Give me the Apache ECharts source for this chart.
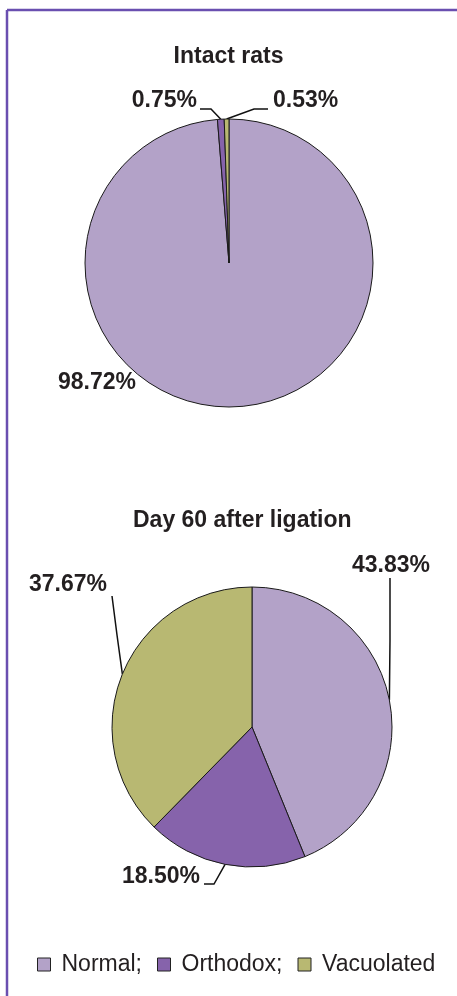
<!DOCTYPE html>
<html>
<head>
<meta charset="utf-8">
<script src="https://cdn.jsdelivr.net/npm/echarts@6/dist/echarts.min.js"></script>
<style>
  html, body { margin: 0; padding: 0; background: #fff; }
  #chart { width: 457px; height: 996px; }
</style>
</head>
<body>
<div id="chart"></div>
<script>
// categories + values (percent of mitochondria)
const categories = ["Normal", "Orthodox", "Vacuolated"];
const intactValues = [98.72, 0.75, 0.53];
const day60Values = [43.83, 18.5, 37.67];
const titles = ["Intact rats", "Day 60 after ligation"];
const colors = ["#b3a2c8", "#8663ab", "#b8b872"];

const FONT = "'Liberation Sans', Arial, sans-serif";
const TOP = { center: [229, 263], r: 144 };
const BOT = { center: [252, 727], r: 140 };

// where each label sits and how its leader bends (layout only)
const topLabels = [
  { x: 97, y: 383, align: "center" },
  { x: 197, y: 101, align: "right", line: [[211, 109], [200, 109]] },
  { x: 273, y: 101, align: "left", line: [[254, 109], [268, 109]] }
];
const botLabels = [
  { x: 391, y: 566, align: "center", line: [[390, 640], [390, 578]] },
  { x: 200, y: 877, align: "right", line: [[214, 884], [204, 884]] },
  { x: 68, y: 585, align: "center", line: [[117, 635], [112, 596]] }
];

function edgePoint(values, idx, geo) {
  const total = values.reduce((a, b) => a + b, 0);
  let cum = 0;
  for (let i = 0; i < idx; i++) cum += values[i];
  const a = 2 * Math.PI * (cum + values[idx] / 2) / total;
  return [geo.center[0] + geo.r * Math.sin(a), geo.center[1] - geo.r * Math.cos(a)];
}

function layoutFor(pos, values, geo) {
  return function (params) {
    const p = pos[params.dataIndex];
    const out = { x: p.x, y: p.y, align: p.align, verticalAlign: "middle" };
    if (p.line) {
      out.labelLinePoints = [edgePoint(values, params.dataIndex, geo), p.line[0], p.line[1]];
    }
    return out;
  };
}

function pieSeries(values, geo, pos) {
  return {
    type: "pie",
    center: geo.center,
    radius: geo.r,
    startAngle: 90,
    clockwise: true,
    avoidLabelOverlap: false,
    animation: false,
    silent: true,
    itemStyle: { borderColor: "#1a1a1a", borderWidth: 1 },
    label: {
      show: true,
      position: "outside",
      formatter: (p) => p.value.toFixed(2) + "%",
      fontFamily: FONT,
      fontSize: 23,
      fontWeight: "bold",
      color: "#231f20"
    },
    labelLine: { show: true, lineStyle: { color: "#111", width: 1.5 } },
    labelLayout: layoutFor(pos, values, geo),
    data: categories.map((name, i) => ({
      name: name,
      value: values[i],
      itemStyle: { color: colors[i] },
      labelLine: { show: !!pos[i].line }
    }))
  };
}

const chart = echarts.init(document.getElementById("chart"));
chart.setOption({
  backgroundColor: "#fff",
  animation: false,
  title: [
    {
      text: titles[0], left: "center", top: 45, padding: 0,
      textStyle: { fontFamily: FONT, fontSize: 23, fontWeight: "bold", color: "#231f20" }
    },
    {
      text: titles[1], left: 133, top: 509, padding: 0,
      textStyle: { fontFamily: FONT, fontSize: 23, fontWeight: "bold", color: "#231f20" }
    }
  ],
  legend: {
    data: categories,
    left: 37,
    top: 953,
    padding: 0,
    icon: "rect",
    itemWidth: 13,
    itemHeight: 13,
    itemGap: 15,
    itemStyle: { borderColor: "#222", borderWidth: 1 },
    selectedMode: false,
    formatter: (name) => (name === categories[categories.length - 1] ? name : name + ";"),
    textStyle: { fontFamily: FONT, fontSize: 23, color: "#231f20", padding: [0, 0, 0, 6] }
  },
  graphic: [
    { type: "line", shape: { x1: 7, y1: 10, x2: 457, y2: 10 }, style: { stroke: "#6a4fb0", lineWidth: 2.5 } },
    { type: "line", shape: { x1: 7, y1: 10, x2: 7, y2: 996 }, style: { stroke: "#6a4fb0", lineWidth: 2.5 } }
  ],
  series: [
    pieSeries(intactValues, TOP, topLabels),
    pieSeries(day60Values, BOT, botLabels)
  ]
});
</script>
</body>
</html>
